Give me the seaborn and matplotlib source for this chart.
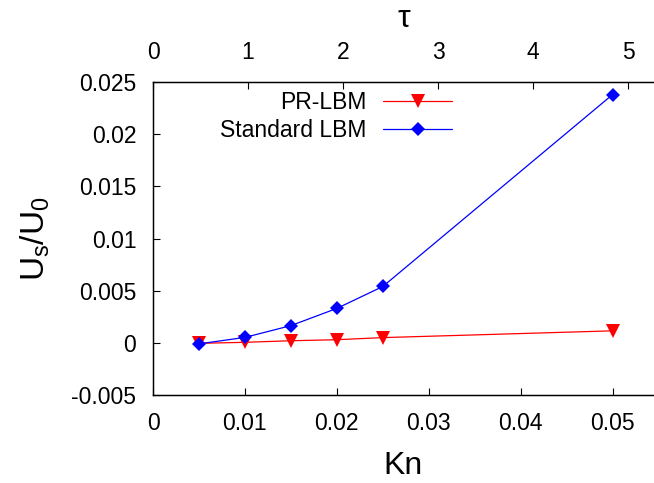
import matplotlib
matplotlib.use("Agg")
import matplotlib.pyplot as plt
import seaborn as sns
import pandas as pd
from matplotlib.ticker import FuncFormatter

kn = [0.005, 0.01, 0.015, 0.02, 0.025, 0.05]
pr_lbm = [-0.00005, 0.00005, 0.0002, 0.0003, 0.0005, 0.00115]
std_lbm = [-0.0001, 0.00052, 0.00165, 0.0033, 0.0054, 0.0238]
x_ticks = [0, 0.01, 0.02, 0.03, 0.04, 0.05]
tau_ticks = [0, 1, 2, 3, 4, 5]
y_ticks = [-0.005, 0, 0.005, 0.01, 0.015, 0.02, 0.025]

sns.set_style("ticks")
plt.rcParams['font.family'] = ['Liberation Sans', 'DejaVu Sans']
plt.rcParams['mathtext.default'] = 'regular'
for k in ['text.color', 'axes.labelcolor', 'xtick.color', 'ytick.color', 'axes.edgecolor']:
    plt.rcParams[k] = 'black'

df = pd.DataFrame({
    "Kn": kn * 2,
    "val": pr_lbm + std_lbm,
    "method": ["PR-LBM"] * len(kn) + ["Standard LBM"] * len(kn),
})

fig = plt.figure(figsize=(6.54, 4.83), dpi=100)
ax = fig.add_axes([153/654, 1 - 395/483, 1 - 153/654, (395 - 82)/483])

sizes = [10, 7.5]
sns.lineplot(data=df, x="Kn", y="val", hue="method", style="method",
             palette={"PR-LBM": "#ff0000", "Standard LBM": "#0000ff"},
             markers={"PR-LBM": "v", "Standard LBM": "D"},
             dashes=False, markeredgewidth=0, linewidth=0.9,
             ax=ax, legend=True)
for ln, ms in zip(ax.lines, sizes):
    ln.set_markersize(ms)

ax.set_xlim(0, 0.0545)
ax.set_ylim(-0.005, 0.025)
ax.set_xticks(x_ticks)
ax.set_yticks(y_ticks)
fmt = FuncFormatter(lambda v, p: "%g" % round(v, 4) if abs(v) > 1e-12 else "0")
ax.xaxis.set_major_formatter(fmt)
ax.yaxis.set_major_formatter(fmt)
ax.tick_params(direction="in", length=5, width=0.8, labelsize=16.5, pad=12)
ax.set_xlabel("Kn", fontsize=23, labelpad=12)
ax.set_ylabel(r"$U_s/U_0$", fontsize=24, labelpad=14)
for s in ["left", "bottom", "top"]:
    ax.spines[s].set_linewidth(1.0)
ax.spines["right"].set_visible(False)

ax2 = ax.twiny()
ax2.set_xlim(0, 5.27)
ax2.set_xticks(tau_ticks)
ax2.tick_params(direction="in", length=5, width=0.8, labelsize=16.5, pad=13)
ax2.set_xlabel("τ", fontsize=23, labelpad=10)
ax2.spines["right"].set_visible(False)

handles, labels = ax.get_legend_handles_labels()
for h, ms in zip(handles, sizes):
    h.set_markersize(ms)
leg = ax.legend(handles, labels, loc="upper right", bbox_to_anchor=(0.597, 0.97),
                frameon=False, markerfirst=False, fontsize=16.5, handlelength=3.0,
                handletextpad=0.75, labelspacing=0.22, borderpad=0, borderaxespad=0)

fig.savefig("out.png", dpi=100)
